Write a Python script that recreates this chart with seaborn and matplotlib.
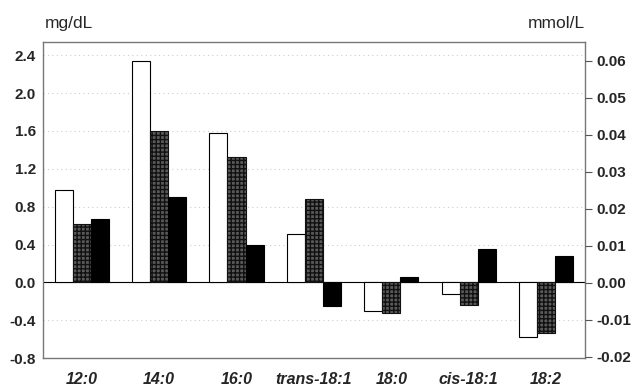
import matplotlib
matplotlib.use("Agg")
import matplotlib.pyplot as plt
import seaborn as sns
import pandas as pd

categories = ["12:0", "14:0", "16:0", "trans-18:1", "18:0", "cis-18:1", "18:2"]
series_names = ["A", "B", "C"]
white_vals = [0.98, 2.34, 1.58, 0.51, -0.30, -0.12, -0.58]
hatched_vals = [0.62, 1.60, 1.33, 0.88, -0.32, -0.24, -0.54]
black_vals = [0.67, 0.90, 0.40, -0.25, 0.06, 0.35, 0.28]
left_ticks = [-0.8, -0.4, 0.0, 0.4, 0.8, 1.2, 1.6, 2.0, 2.4]
right_ticks = [-0.02, -0.01, 0.00, 0.01, 0.02, 0.03, 0.04, 0.05, 0.06]

sns.set_style("white")
plt.rcParams['font.family'] = ['Liberation Sans', 'DejaVu Sans']

rows = []
for name, vals in zip(series_names, [white_vals, hatched_vals, black_vals]):
    for c, v in zip(categories, vals):
        rows.append({"cat": c, "series": name, "val": v})
df = pd.DataFrame(rows)

HATCH_FC = "#5a5a5a"
fig = plt.figure(figsize=(6.39, 3.86), dpi=100)
ax = fig.add_axes([0.0673, 0.0725, 0.848, 0.8185])
sns.barplot(data=df, x="cat", y="val", hue="series", order=categories,
            hue_order=series_names, width=0.7, ax=ax, legend=False,
            palette=["white", HATCH_FC, "black"], edgecolor="black",
            linewidth=0.8, saturation=1)
for p in ax.patches:
    fc = p.get_facecolor()
    if abs(fc[0] - 0x5a / 255) < 0.02:
        p.set_hatch("++++")
        p.set_edgecolor("#111111")

ax.set_xlim(-0.5, 6.5)
ax.set_ylim(-0.8, 2.54)
ax.set_yticks(left_ticks)
ax.set_yticklabels([f"{t:.1f}" for t in left_ticks], fontsize=11, fontweight="bold")
ax.set_xticks(range(len(categories)))
ax.set_xticklabels(categories, fontsize=11.5, fontweight="bold", fontstyle="italic")
ax.set_xlabel("")
ax.set_ylabel("")
ax.axhline(0, color="black", lw=0.8, zorder=0.5)
for t in left_ticks:
    ax.axhline(t, color="#cccccc", lw=0.8, ls=(0, (1, 3)), zorder=0.1)
ax.tick_params(axis="y", direction="out", length=0, pad=5)
ax.tick_params(axis="x", direction="out", length=5, width=0.8, color="#555555", pad=5)
for s in ax.spines.values():
    s.set_color("#777777")
    s.set_linewidth(1.0)

ax2 = ax.twinx()
ax2.set_ylim(-0.0203, 0.0651)
ax2.set_yticks(right_ticks)
ax2.set_yticklabels([f"{t:.2f}" for t in right_ticks], fontsize=11, fontweight="bold")
ax2.tick_params(axis="y", direction="out", length=5, width=0.8, color="#555555", pad=3)
for s in ax2.spines.values():
    s.set_visible(False)

fig.text(0.07, 0.94, "mg/dL", fontsize=12.5, ha="left", va="center")
fig.text(0.915, 0.94, "mmol/L", fontsize=12.5, ha="right", va="center")

fig.savefig("out.png", dpi=100)
